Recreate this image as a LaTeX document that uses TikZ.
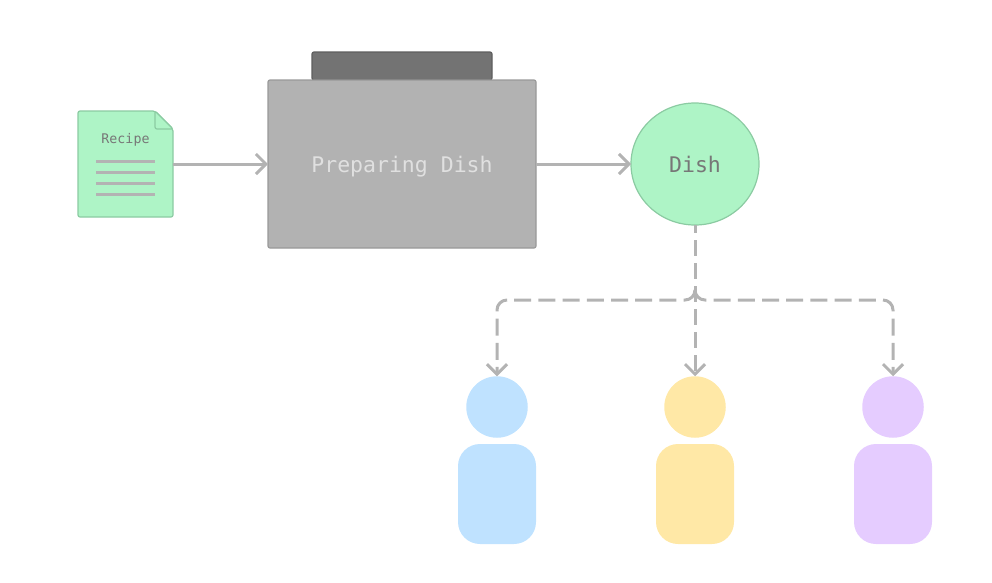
\documentclass[tikz,border=0pt]{standalone}
\usepackage{fontspec}
\setmonofont{DejaVu Sans Mono}
\usetikzlibrary{arrows.meta,shapes.geometric,calc}
\definecolor{leaf}{HTML}{AEF4C6}
\definecolor{leafline}{HTML}{8BCBA2}
\definecolor{wire}{HTML}{B3B3B3}
\definecolor{inktext}{HTML}{777777}
\tikzset{
  basic/.style  = {inner sep=0pt, outer sep=0pt, font=\ttfamily},
  paper/.style  = {basic, minimum width=95pt, minimum height=106pt},
  sheet/.style  = {draw=leafline, fill=leaf, line width=1.2pt, rounded corners=2pt, line join=round},
  rule/.style   = {draw=wire, line width=3pt},
  oven/.style   = {basic, draw=black!40, fill=black!30, line width=1.2pt, rounded corners=2pt,
                   minimum width=268pt, minimum height=168pt, text=black!12, text depth=0pt,
                   font=\ttfamily\fontsize{21.5pt}{24pt}\selectfont},
  lid/.style    = {basic, draw=black!63, fill=black!55, line width=1.2pt, rounded corners=2pt,
                   minimum width=180pt, minimum height=28pt},
  dish/.style   = {basic, ellipse, draw=leafline, fill=leaf, line width=1.2pt,
                   minimum width=128pt, minimum height=122pt, text=inktext,
                   font=\ttfamily\fontsize{21.5pt}{24pt}\selectfont},
  head/.style   = {basic, circle, minimum size=61.5pt},
  torso/.style  = {basic, rounded corners=22pt, minimum width=78pt, minimum height=100pt},
  link/.style   = {draw=wire, line width=3pt, -{Straight Barb[length=10pt,width=20pt,line width=3pt]}},
  share/.style  = {link, dash pattern=on 16pt off 7pt, dash phase=8pt},
  branch/.style = {link, dash pattern=on 17pt off 7.2pt, rounded corners=10pt}
}
\begin{document}
\begin{tikzpicture}[x=1pt,y=-1pt]
\useasboundingbox (0,0) rectangle (992,582);

% recipe sheet with its folded corner
\node[paper] (recipe) at (125.5,164) {};
\draw[sheet] (recipe.north west) -- ($(recipe.north east)+(-18,0)$) -- ($(recipe.north east)+(0,18)$)
  -- (recipe.south east) -- (recipe.south west) -- cycle;
\draw[sheet] ($(recipe.north east)+(-18,0)$) -- ($(recipe.north east)+(-18,18)$) -- ($(recipe.north east)+(0,18)$) -- cycle;
\node[basic, text=inktext, text depth=0pt, font=\ttfamily\fontsize{13.3pt}{15pt}\selectfont] (title) at (125.5,138) {Recipe};
\foreach \value in {161,172,183,194}
  \draw[rule] (96,\value) -- (155,\value);

\node[lid]  (lid)  at (402,66) {};
\node[oven] (oven) at (402,164) {Preparing Dish};
\node[dish] (food) at (695,164) {Dish};

% the three people
\foreach \value/\xpos/\tone in {1/497/BFE2FF,2/695/FFE8A6,3/893/E5CCFF} {
  \definecolor{tone}{HTML}{\tone}
  \node[head, fill=tone]  (head\value)  at (\xpos,407) {};
  \node[torso, fill=tone] (torso\value) at (\xpos,494) {};
}

\draw[link] (recipe.east) -- (oven.west);
\draw[link] (oven.east) -- (food.west);

\coordinate (bend) at (695,290);
\coordinate (fork) at (695,300);
\draw[share]  (food.south) -- (head2.north);
\draw[branch] (bend) -- (fork) -| (head1.north);
\draw[branch] (bend) -- (fork) -| (head3.north);

\end{tikzpicture}
\end{document}
